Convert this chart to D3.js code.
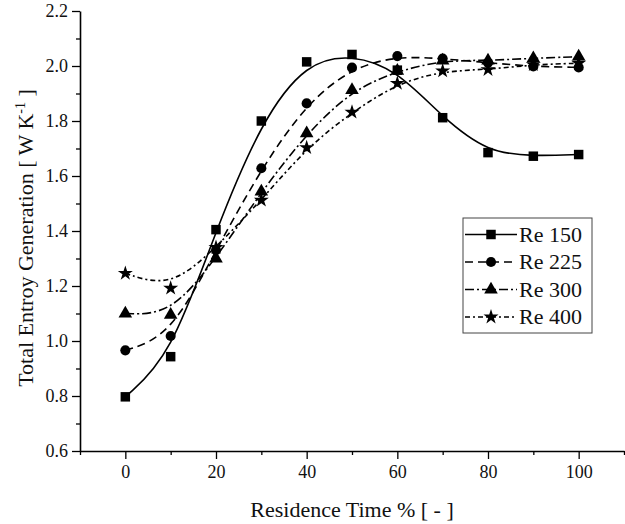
<!DOCTYPE html>
<html>
<head>
<meta charset="utf-8">
<script src="https://cdn.jsdelivr.net/npm/d3@7"></script>
<style>
    body { margin: 0; background: #fff; }
    svg text { font-family: 'Liberation Serif', 'Times New Roman', Tinos, 'DejaVu Serif', serif !important; fill: #111; }
</style>
</head>
<body>
<div id="chart"></div>
<script>
// residence time (%) and total entropy generation per Reynolds number
const times = [0, 10, 20, 30, 40, 50, 60, 70, 80, 90, 100];
const re150 = [0.797, 0.943, 1.405, 1.800, 2.015, 2.042, 1.985, 1.812, 1.685, 1.672, 1.678];
const re225 = [0.966, 1.018, 1.330, 1.628, 1.864, 1.994, 2.036, 2.027, 2.012, 1.998, 1.995];
const re300 = [1.100, 1.095, 1.300, 1.543, 1.755, 1.912, 1.982, 2.020, 2.020, 2.028, 2.034];
const re400 = [1.246, 1.192, 1.340, 1.512, 1.703, 1.832, 1.937, 1.982, 1.987, 2.005, 2.010];
const seriesNames = ["Re 150", "Re 225", "Re 300", "Re 400"];
const xTicks = [0, 20, 40, 60, 80, 100];
const yTicks = [0.6, 0.8, 1.0, 1.2, 1.4, 1.6, 1.8, 2.0, 2.2];

const W = 625, H = 524;
const margin = { left: 80, top: 11, right: 1, bottom: 73 };
const FONT = "'Liberation Serif', 'Times New Roman', Tinos, serif";

const series = [
    { name: seriesNames[0], values: re150, dash: null, symbol: d3.symbolSquare, size: 90 },
    { name: seriesNames[1], values: re225, dash: "8,5", symbol: d3.symbolCircle, size: 80 },
    { name: seriesNames[2], values: re300, dash: "9,3,2,3", symbol: d3.symbolTriangle, size: 80 },
    { name: seriesNames[3], values: re400, dash: "5,3,2,3", symbol: d3.symbolStar, size: 70 }
];

const svg = d3.select("#chart").append("svg")
    .attr("width", W)
    .attr("height", H)
    .attr("font-family", FONT);

const x = d3.scaleLinear().domain([-10, 110]).range([margin.left, W - margin.right]);
const y = d3.scaleLinear().domain([0.6, 2.2]).range([H - margin.bottom, margin.top]);

// minor ticks
svg.append("g")
    .attr("transform", `translate(0,${y(0.6)})`)
    .call(d3.axisBottom(x).tickValues(d3.range(-10, 111, 10).filter(v => v % 20 !== 0)).tickSize(4).tickFormat(""))
    .call(g => g.select(".domain").remove())
    .selectAll("line").attr("stroke-width", 1.3);

svg.append("g")
    .attr("transform", `translate(${x(-10)},0)`)
    .call(d3.axisLeft(y).tickValues([0.7, 0.9, 1.1, 1.3, 1.5, 1.7, 1.9, 2.1]).tickSize(4).tickFormat(""))
    .call(g => g.select(".domain").remove())
    .selectAll("line").attr("stroke-width", 1.3);

// major axes
const xAxis = svg.append("g")
    .attr("transform", `translate(0,${y(0.6)})`)
    .call(d3.axisBottom(x).tickValues(xTicks).tickSize(8).tickSizeOuter(0).tickPadding(6));
xAxis.attr("font-family", FONT);
xAxis.select(".domain").attr("stroke-width", 1.6);
xAxis.selectAll("line").attr("stroke-width", 1.3);
xAxis.selectAll("text").style("font-size", "18px").attr("fill", "#111");

const yAxis = svg.append("g")
    .attr("transform", `translate(${x(-10)},0)`)
    .call(d3.axisLeft(y).tickValues(yTicks).tickSize(8).tickSizeOuter(0).tickPadding(4).tickFormat(d3.format(".1f")));
yAxis.attr("font-family", FONT);
yAxis.select(".domain").attr("stroke-width", 1.6);
yAxis.selectAll("line").attr("stroke-width", 1.3);
yAxis.selectAll("text").style("font-size", "18px").attr("fill", "#111");

// axis titles
svg.append("text")
    .attr("x", 352)
    .attr("y", 517)
    .attr("text-anchor", "middle")
    .style("font-size", "22px")
    .text("Residence Time % [ - ]");

const yTitle = svg.append("text")
    .attr("transform", `translate(33,238) rotate(-90)`)
    .attr("text-anchor", "middle")
    .style("font-size", "22px");
yTitle.append("tspan").text("Total Entroy Generation [ W K");
yTitle.append("tspan").attr("dy", -8).style("font-size", "14px").text("-1");
yTitle.append("tspan").attr("dy", 8).text(" ]");

// lines
const line = d3.line()
    .x((d, i) => x(times[i]))
    .y(d => y(d))
    .curve(d3.curveBasis);

series.forEach(s => {
    svg.append("path")
        .datum(s.values)
        .attr("fill", "none")
        .attr("stroke", "#000")
        .attr("stroke-width", 1.6)
        .attr("stroke-dasharray", s.dash)
        .attr("d", line);
});

// markers
series.forEach(s => {
    svg.append("g")
        .selectAll("path")
        .data(s.values)
        .join("path")
        .attr("transform", (d, i) => `translate(${x(times[i])},${y(d)})`)
        .attr("d", d3.symbol(s.symbol, s.size))
        .attr("fill", "#000");
});

// legend
const lg = svg.append("g").attr("transform", "translate(463,218)");
lg.append("rect")
    .attr("width", 129)
    .attr("height", 115)
    .attr("fill", "#fff")
    .attr("stroke", "#444")
    .attr("stroke-width", 1);

series.forEach((s, i) => {
    const ry = 16.5 + i * 27.5;
    lg.append("line")
        .attr("x1", 2).attr("x2", 54)
        .attr("y1", ry).attr("y2", ry)
        .attr("stroke", "#000")
        .attr("stroke-width", 1.6)
        .attr("stroke-dasharray", s.dash);
    lg.append("path")
        .attr("transform", `translate(28,${ry})`)
        .attr("d", d3.symbol(s.symbol, s.size))
        .attr("fill", "#000");
    lg.append("text")
        .attr("x", 56)
        .attr("y", ry + 7)
        .style("font-size", "22px")
        .text(s.name);
});
</script>
</body>
</html>
